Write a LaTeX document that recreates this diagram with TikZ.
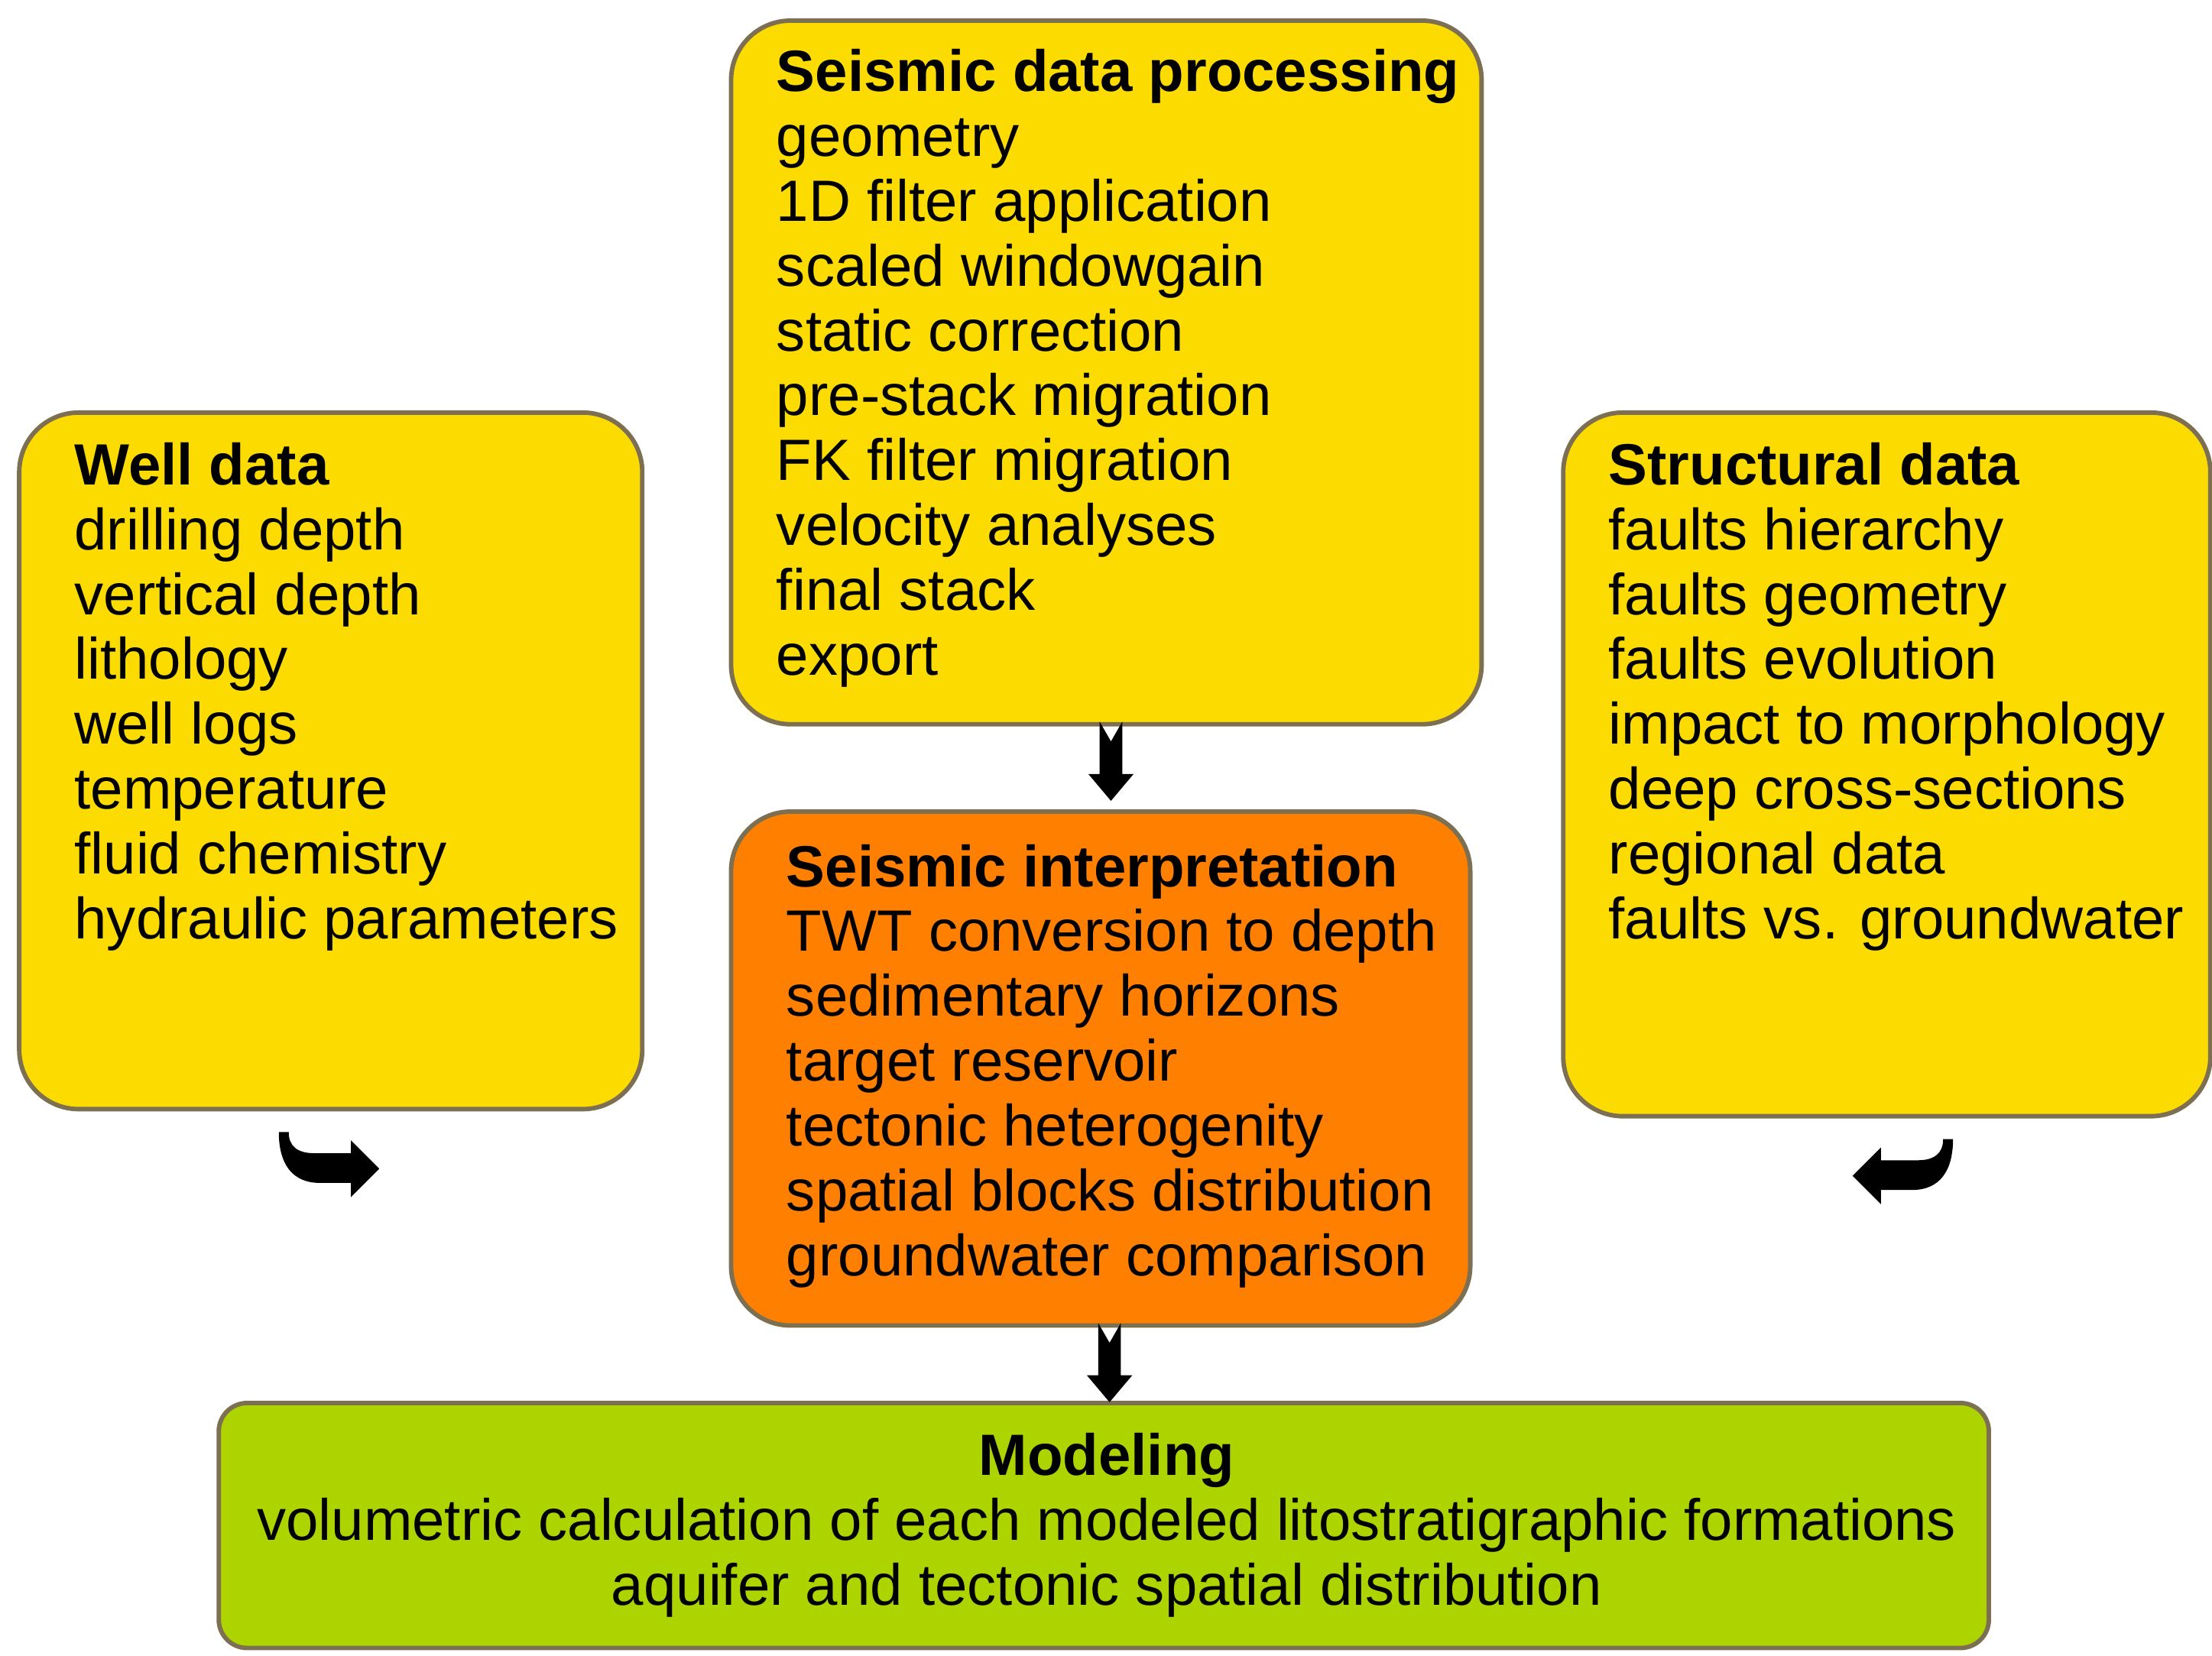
\documentclass[tikz,border=0pt]{standalone}
\usepackage{fontspec}
\setmainfont{Liberation Sans}
\begin{document}
\begin{tikzpicture}[x=0.01cm,y=-0.01cm,
  box/.style={draw=black!80!yellow!60!brown,line width=0.9pt,rounded corners=0.42cm},
  txt/.style={inner sep=0,align=left,anchor=north west,font=\fontsize{11.7}{13.04}\selectfont},
  arr/.style={fill=black,draw=none}]
\useasboundingbox[fill=white] (0,0) rectangle (1563,1170);
\definecolor{yel}{HTML}{FCDB00}
\definecolor{org}{HTML}{FF7F00}
\definecolor{grn}{HTML}{AED400}
\node[box,fill=yel,anchor=north west,minimum width=4.4cm,minimum height=4.92cm] (well) at (12,290) {};
\node[box,fill=yel,anchor=north west,minimum width=5.3cm,minimum height=4.97cm] (proc) at (515,13) {};
\node[box,fill=yel,anchor=north west,minimum width=4.57cm,minimum height=4.97cm] (struct) at (1103,290) {};
\node[box,fill=org,anchor=north west,minimum width=5.22cm,minimum height=3.63cm] (interp) at (515,572) {};
\node[box,fill=grn,anchor=north west,minimum width=12.5cm,minimum height=1.73cm,rounded corners=0.2cm] (model) at (153,990) {};
\node[txt] (wt) at (52,312) {\textbf{Well data}\\drilling depth\\vertical depth\\lithology\\well logs\\temperature\\fluid chemistry\\hydraulic parameters};
\node[txt] (pt) at (548,34) {\textbf{Seismic data processing}\\geometry\\1D filter application\\scaled windowgain\\static correction\\pre-stack migration\\FK filter migration\\velocity analyses\\final stack\\export};
\node[txt] (st) at (1136,312) {\textbf{Structural data}\\faults hierarchy\\faults geometry\\faults evolution\\impact to morphology\\deep cross-sections\\regional data\\faults vs. groundwater};
\node[txt] (it) at (555,596) {\textbf{Seismic interpretation}\\TWT conversion to depth\\sedimentary horizons\\target reservoir\\tectonic heterogenity\\spatial blocks distribution\\groundwater comparison};
\node[txt,align=center,anchor=north] (mt) at (782,1012) {\textbf{Modeling}\\volumetric calculation of each modeled litostratigraphic formations\\aquifer and tectonic spatial distribution};
% down arrows
\fill[arr] (777,510) -- (785,524) -- (793,510) -- (793,547) -- (801,547) -- (785,566) -- (769,547) -- (777,547) -- cycle;
\fill[arr] (776,935) -- (784,949) -- (792,935) -- (792,972) -- (800,972) -- (784,991) -- (768,972) -- (776,972) -- cycle;
% curved arrows
\fill[arr] (197,800) -- (204,800) .. controls (204,810) and (210,815) .. (222,815) -- (248,815) -- (248,806) -- (268,826) -- (248,846) -- (248,836) -- (226,836) .. controls (206,836) and (197,822) .. (197,800) -- cycle;
\fill[arr] (1380,805) -- (1373,805) .. controls (1373,815) and (1367,820) .. (1355,820) -- (1329,820) -- (1329,811) -- (1309,831) -- (1329,851) -- (1329,841) -- (1351,841) .. controls (1371,841) and (1380,827) .. (1380,805) -- cycle;
\end{tikzpicture}
\end{document}
